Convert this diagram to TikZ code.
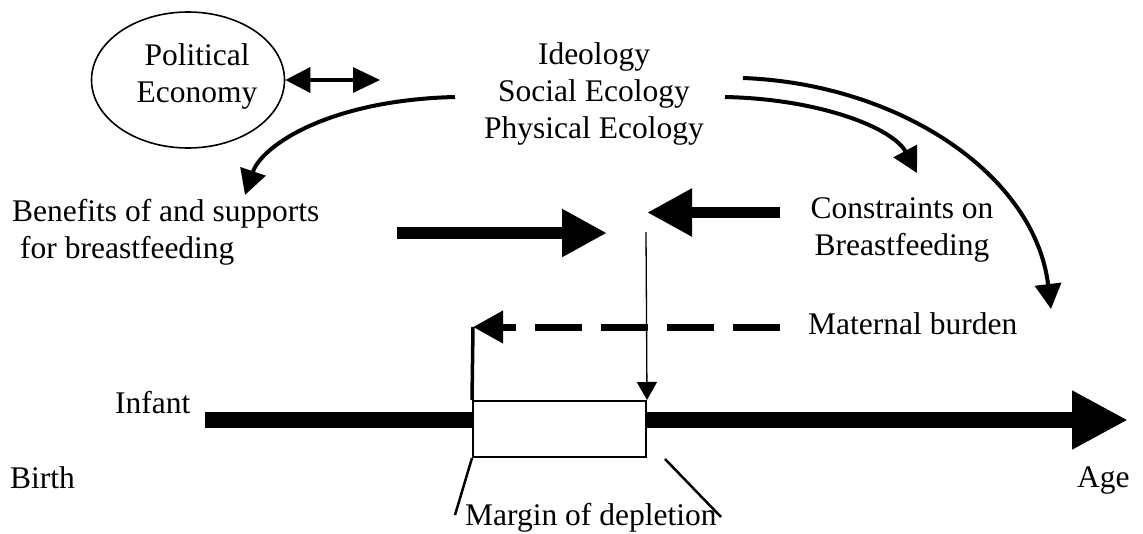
\documentclass[tikz,border=0pt]{standalone}
\usepackage{fontspec}
\setmainfont{Liberation Serif}
\usetikzlibrary{arrows.meta,shapes.geometric}
\begin{document}
\begin{tikzpicture}[x=1pt,y=-1pt,
  every node/.style={inner sep=0pt, font=\fontsize{31.5}{37}\selectfont},
  lbl/.style={anchor=base, align=center},
  lblw/.style={anchor=base west, align=left},
  curvy/.style={line width=4pt, -{Triangle[length=25pt,width=26pt]}},
  fat/.style={line width=12pt, -{Triangle[length=45pt,width=45pt]}},
  leader/.style={line width=2.5pt},
]
\useasboundingbox (0,0) rectangle (1143,533);

% --- labels (multi-line nodes sit on the baseline of their last line) ---
\node[ellipse, draw, line width=1.6pt, minimum width=193pt, minimum height=136pt] (pe) at (188,80) {};
\node[lbl] (pet) at (197,102) {Political\\Economy};
\node[lbl] (ideo) at (594,138) {Ideology\\Social Ecology\\Physical Ecology};
\node[lblw] (ben) at (12,258) {Benefits of and supports\\\hspace*{8pt}for breastfeeding};
\node[lbl] (con) at (902,255) {Constraints on\\Breastfeeding};
\node[lblw] (mat) at (808,334) {Maternal burden};
\node[lblw] (inf) at (115,413) {Infant};
\node[lblw] (birth) at (10,488) {Birth};
\node[lblw] (age) at (1077,487) {Age};
\node[lblw] (mar) at (465,525) {Margin of depletion};

% --- anchor points for the connectors ---
\coordinate (pe-r) at (380,80);
\coordinate (ideo-l) at (455,97);
\coordinate (ben-in) at (245,195);
\coordinate (ideo-r1) at (725,97);
\coordinate (con-in) at (917,173);
\coordinate (ideo-r2) at (743,78);
\coordinate (mat-in) at (1051,309);
\coordinate (bs) at (397,233);
\coordinate (be) at (607,233);
\coordinate (cs) at (780,212.5);
\coordinate (ce) at (647,212.5);
\coordinate (meet) at (646,232);
\coordinate (mbst) at (780,327);
\coordinate (corner) at (473,327);
\coordinate (tl-start) at (205,420);
\coordinate (tl-end) at (1128,420);
\coordinate (lead-l) at (455,515);
\coordinate (lead-r0) at (665,459);
\coordinate (lead-r) at (721,517);

% --- time line and margin box ---
\draw[line width=16pt, -{Triangle[length=56pt,width=55pt]}] (tl-start) -- (tl-end);
\node[draw, fill=white, line width=2pt, minimum width=173pt, minimum height=56pt] (mb) at (559.5,429) {};

% --- connectors ---
\draw[line width=3.5pt, {Triangle[length=25pt,width=25pt]}-{Triangle[length=27pt,width=25pt]}] (pe.east) -- (pe-r);
\draw[curvy] (ideo-l) .. controls (330,100) and (262,145) .. (ben-in);
\draw[curvy] (ideo-r1) .. controls (820,99) and (893,128) .. (con-in);
\draw[curvy] (ideo-r2) .. controls (900,84) and (1035,175) .. (mat-in);
\draw[fat] (bs) -- (be);
\draw[line width=11.7pt, -{Triangle[length=45pt,width=45pt]}] (cs) -- (ce);
\draw[line width=1.3pt, -{Triangle[length=18pt,width=20pt]}] (meet) -- (mb.north east);
\draw[line width=7pt, dash pattern=on 47pt off 19pt, -{Triangle[length=30pt,width=31pt]}] (mbst) -- (corner);
\draw[line width=3.5pt] (mb.north west) -- (corner);
\draw[leader] (mb.south west) -- (lead-l);
\draw[leader] (lead-r0) -- (lead-r);
\end{tikzpicture}
\end{document}
